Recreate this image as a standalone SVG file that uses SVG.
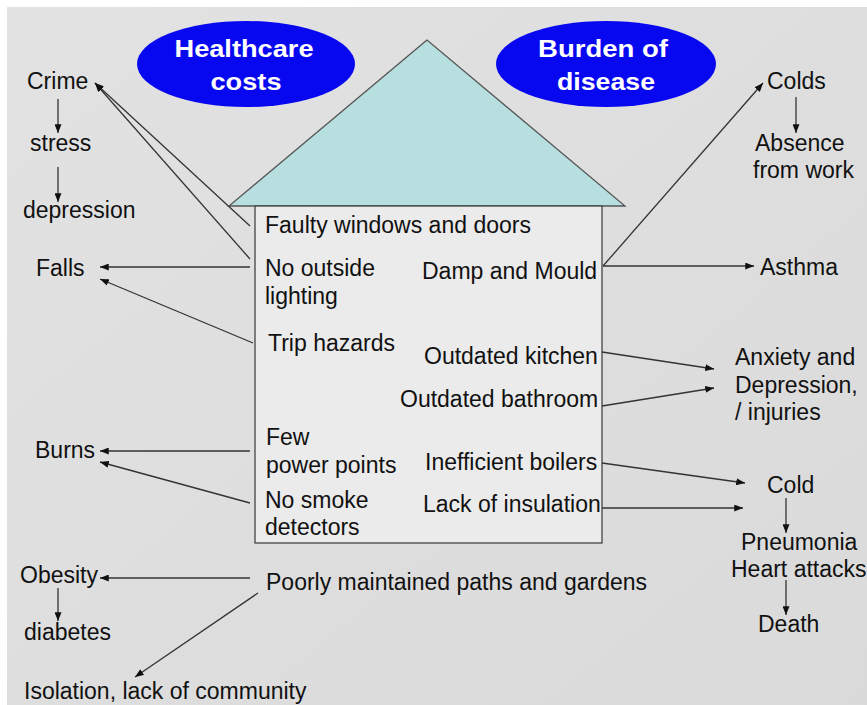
<svg xmlns="http://www.w3.org/2000/svg" width="867" height="705" viewBox="0 0 867 705">
<defs>
<linearGradient id="bg" x1="0" y1="0" x2="1" y2="1">
<stop offset="0" stop-color="#e2e2e2"/>
<stop offset="1" stop-color="#dadada"/>
</linearGradient>
<marker id="ah" viewBox="0 0 10 8" refX="10" refY="4" markerWidth="9" markerHeight="7" markerUnits="userSpaceOnUse" orient="auto">
<path d="M0,0 L10,4 L0,8 Z" fill="#111"/>
</marker>
</defs>
<style>
.t{font-family:"Liberation Sans",Arial,sans-serif;font-size:23px;fill:#111}
.w{font-family:"Liberation Sans",Arial,sans-serif;font-size:24px;font-weight:bold;fill:#fff;text-anchor:middle}
.c line{stroke:#333;stroke-width:1.3;marker-end:url(#ah)}
</style>
<rect x="0" y="0" width="867" height="705" fill="#fff"/>
<rect x="7" y="7" width="860" height="698" fill="url(#bg)"/>

<g id="house">
<polygon points="427,40 229,206 625,206" fill="#b8dfe0" stroke="#555" stroke-width="1.3"/>
<rect x="255" y="206" width="347" height="337" fill="#ebebeb" stroke="#444" stroke-width="1.3"/>
</g>

<g id="healthcare-costs">
<ellipse cx="246" cy="64" rx="109" ry="43" fill="#0808f0"/>
<text class="w" x="244" y="57" textLength="139" lengthAdjust="spacingAndGlyphs">Healthcare</text>
<text class="w" x="246" y="90" textLength="71" lengthAdjust="spacingAndGlyphs">costs</text>
</g>
<g id="burden-of-disease">
<ellipse cx="606" cy="64" rx="110" ry="43" fill="#0808f0"/>
<text class="w" x="603" y="57" textLength="130" lengthAdjust="spacingAndGlyphs">Burden of</text>
<text class="w" x="606" y="90" textLength="98" lengthAdjust="spacingAndGlyphs">disease</text>
</g>

<g id="faulty-windows"><text class="t" x="265" y="233">Faulty windows and doors</text></g>
<g id="no-outside-lighting"><text class="t" x="265" y="276">No outside</text><text class="t" x="265" y="304">lighting</text></g>
<g id="damp-mould"><text class="t" x="422" y="279">Damp and Mould</text></g>
<g id="trip-hazards"><text class="t" x="268" y="351">Trip hazards</text></g>
<g id="outdated-kitchen"><text class="t" x="424" y="364">Outdated kitchen</text></g>
<g id="outdated-bathroom"><text class="t" x="400" y="407">Outdated bathroom</text></g>
<g id="few-power-points"><text class="t" x="266" y="445">Few</text><text class="t" x="266" y="473">power points</text></g>
<g id="inefficient-boilers"><text class="t" x="425" y="470">Inefficient boilers</text></g>
<g id="no-smoke-detectors"><text class="t" x="265" y="508">No smoke</text><text class="t" x="265" y="535">detectors</text></g>
<g id="lack-insulation"><text class="t" x="423" y="512">Lack of insulation</text></g>
<g id="poor-paths"><text class="t" x="266" y="590">Poorly maintained paths and gardens</text></g>

<g id="crime"><text class="t" x="27" y="89">Crime</text></g>
<g id="stress"><text class="t" x="30" y="151">stress</text></g>
<g id="depression"><text class="t" x="23" y="218">depression</text></g>
<g id="falls"><text class="t" x="36" y="276">Falls</text></g>
<g id="burns"><text class="t" x="35" y="458">Burns</text></g>
<g id="obesity"><text class="t" x="20" y="583">Obesity</text></g>
<g id="diabetes"><text class="t" x="24" y="640">diabetes</text></g>
<g id="isolation"><text class="t" x="24" y="699">Isolation, lack of community</text></g>

<g id="colds"><text class="t" x="767" y="89">Colds</text></g>
<g id="absence"><text class="t" x="755" y="151">Absence</text><text class="t" x="753" y="178">from work</text></g>
<g id="asthma"><text class="t" x="760" y="275">Asthma</text></g>
<g id="anxiety"><text class="t" x="735" y="365">Anxiety and</text><text class="t" x="735" y="393">Depression,</text><text class="t" x="735" y="420">/ injuries</text></g>
<g id="cold"><text class="t" x="767" y="493">Cold</text></g>
<g id="pneumonia"><text class="t" x="741" y="550">Pneumonia</text><text class="t" x="731" y="577">Heart attacks</text></g>
<g id="death"><text class="t" x="758" y="632">Death</text></g>

<g id="connectors" class="c">
<line x1="250" y1="226" x2="95" y2="83"/>
<line x1="250" y1="259" x2="95" y2="83"/>
<line x1="58" y1="99" x2="58" y2="133"/>
<line x1="58" y1="167" x2="58" y2="202"/>
<line x1="250" y1="267" x2="100" y2="267"/>
<line x1="253" y1="343" x2="100" y2="279"/>
<line x1="250" y1="451" x2="100" y2="451"/>
<line x1="250" y1="503" x2="100" y2="462"/>
<line x1="250" y1="578" x2="100" y2="578"/>
<line x1="58" y1="588" x2="58" y2="621"/>
<line x1="258" y1="593" x2="135" y2="677"/>
<line x1="603" y1="266" x2="763" y2="83"/>
<line x1="603" y1="266" x2="754" y2="266"/>
<line x1="796" y1="97" x2="796" y2="133"/>
<line x1="602" y1="352" x2="714" y2="369"/>
<line x1="602" y1="406" x2="714" y2="388"/>
<line x1="602" y1="463" x2="745" y2="483"/>
<line x1="602" y1="508" x2="743" y2="508"/>
<line x1="786" y1="498" x2="786" y2="533"/>
<line x1="786" y1="580" x2="786" y2="615"/>
</g>
</svg>
